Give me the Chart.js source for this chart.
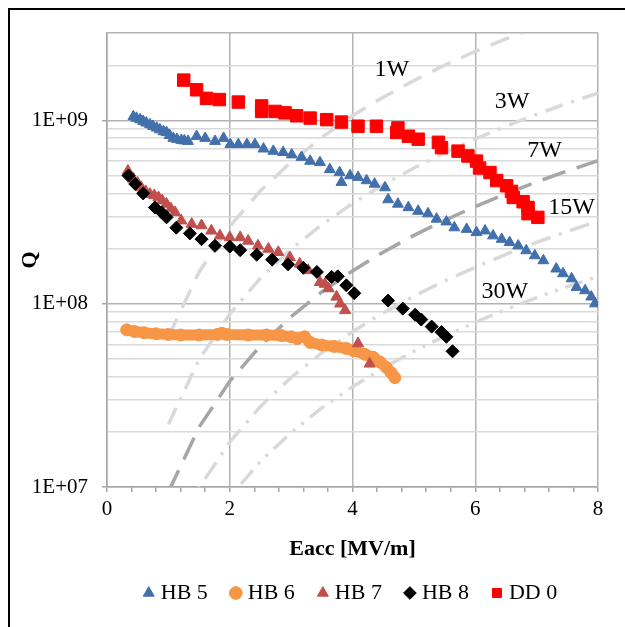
<!DOCTYPE html>
<html lang="en">
<head>
<meta charset="UTF-8">
<title>Q vs Eacc</title>
<script src="https://cdn.jsdelivr.net/npm/chart.js"></script>
<style>
    html, body { margin: 0; padding: 0; background: #fff; }
    body { width: 625px; height: 627px; overflow: hidden; position: relative; }
    canvas { position: absolute; left: 0; top: 0; }
    .frame {
        position: absolute; left: 8px; top: 8px; right: -20px; bottom: -20px;
        border-left: 2px solid #000; border-top: 2px solid #000;
        pointer-events: none;
    }
</style>
</head>
<body>
<canvas id="qChart" width="625" height="627"></canvas>
<div class="frame"></div>
<script>
    // measured series (Eacc in MV/m, Q)
    const hb5E = [0.43, 0.48, 0.54, 0.59, 0.64, 0.70, 0.75, 0.81, 0.86, 0.92, 0.97, 1.02, 1.08, 1.14, 1.21, 1.26, 1.32, 1.46, 1.60, 1.76, 1.90, 2.01, 2.14, 2.28, 2.41, 2.55, 2.71, 2.87, 3.01, 3.17, 3.31, 3.47, 3.63, 3.79, 3.82, 3.96, 4.09, 4.23, 4.36, 4.53, 4.58, 4.74, 4.91, 5.07, 5.23, 5.37, 5.53, 5.66, 5.86, 6.02, 6.16, 6.29, 6.43, 6.56, 6.70, 6.83, 6.97, 7.11, 7.32, 7.43, 7.57, 7.65, 7.79, 7.89, 7.95];
    const hb5Q = [1.05e9, 1.03e9, 1.01e9, 0.99e9, 0.97e9, 0.95e9, 0.93e9, 0.91e9, 0.89e9, 0.87e9, 0.86e9, 0.83e9, 0.80e9, 0.79e9, 0.78e9, 0.775e9, 0.77e9, 0.82e9, 0.80e9, 0.77e9, 0.80e9, 0.74e9, 0.74e9, 0.74e9, 0.74e9, 0.70e9, 0.68e9, 0.67e9, 0.65e9, 0.63e9, 0.60e9, 0.59e9, 0.54e9, 0.52e9, 0.46e9, 0.50e9, 0.49e9, 0.47e9, 0.45e9, 0.43e9, 0.37e9, 0.35e9, 0.335e9, 0.32e9, 0.31e9, 0.29e9, 0.28e9, 0.26e9, 0.255e9, 0.245e9, 0.25e9, 0.235e9, 0.225e9, 0.216e9, 0.207e9, 0.195e9, 0.183e9, 0.172e9, 0.155e9, 0.146e9, 0.137e9, 0.123e9, 0.118e9, 0.109e9, 0.100e9];

    const hb6E = [0.32, 0.45, 0.60, 0.80, 1.00, 1.20, 1.50, 1.80, 1.87, 1.95, 2.30, 2.60, 2.84, 3.00, 3.10, 3.22, 3.31, 3.50, 3.70, 3.90, 4.01, 4.20, 4.34, 4.45, 4.55, 4.63, 4.69];
    const hb6Q = [7.2e7, 7.05e7, 6.95e7, 6.85e7, 6.8e7, 6.75e7, 6.75e7, 6.8e7, 6.9e7, 6.8e7, 6.75e7, 6.75e7, 6.7e7, 6.6e7, 6.45e7, 6.6e7, 6.15e7, 5.95e7, 5.85e7, 5.7e7, 5.55e7, 5.3e7, 5.1e7, 4.8e7, 4.5e7, 4.2e7, 3.95e7];

    const hb7E = [0.34, 0.43, 0.50, 0.56, 0.63, 0.70, 0.77, 0.84, 0.90, 0.97, 1.04, 1.11, 1.21, 1.38, 1.54, 1.70, 1.84, 2.00, 2.17, 2.30, 2.46, 2.63, 2.79, 2.98, 3.14, 3.28, 3.47, 3.55, 3.61, 3.74, 3.80, 3.88, 4.09, 4.28];
    const hb7Q = [5.3e8, 4.8e8, 4.55e8, 4.3e8, 4.1e8, 3.96e8, 3.9e8, 3.8e8, 3.65e8, 3.5e8, 3.3e8, 3.15e8, 2.84e8, 2.72e8, 2.67e8, 2.5e8, 2.35e8, 2.3e8, 2.3e8, 2.2e8, 2.07e8, 1.99e8, 1.91e8, 1.79e8, 1.65e8, 1.52e8, 1.31e8, 1.28e8, 1.21e8, 1.09e8, 1.0e8, 0.92e8, 0.606e8, 0.47e8];

    const hb8E = [0.35, 0.46, 0.59, 0.78, 0.89, 0.97, 1.13, 1.35, 1.54, 1.76, 2.00, 2.17, 2.44, 2.69, 2.95, 3.20, 3.42, 3.66, 3.76, 3.90, 4.03, 4.58, 4.82, 5.02, 5.12, 5.29, 5.45, 5.53, 5.63];
    const hb8Q = [5.0e8, 4.5e8, 4.0e8, 3.35e8, 3.15e8, 2.96e8, 2.6e8, 2.42e8, 2.25e8, 2.07e8, 2.05e8, 1.96e8, 1.85e8, 1.74e8, 1.64e8, 1.57e8, 1.49e8, 1.40e8, 1.41e8, 1.26e8, 1.14e8, 1.04e8, 0.94e8, 0.87e8, 0.82e8, 0.75e8, 0.70e8, 0.66e8, 0.55e8];

    const dd0E = [1.25, 1.46, 1.62, 1.83, 2.14, 2.52, 2.52, 2.74, 2.90, 3.09, 3.31, 3.58, 3.82, 4.09, 4.39, 4.74, 4.72, 4.91, 5.07, 5.40, 5.45, 5.72, 5.88, 6.02, 6.07, 6.24, 6.35, 6.51, 6.59, 6.62, 6.78, 6.86, 6.86, 7.02];
    const dd0Q = [1.66e9, 1.47e9, 1.32e9, 1.30e9, 1.26e9, 1.20e9, 1.12e9, 1.12e9, 1.10e9, 1.06e9, 1.03e9, 1.01e9, 0.98e9, 0.93e9, 0.93e9, 0.91e9, 0.86e9, 0.82e9, 0.79e9, 0.76e9, 0.71e9, 0.68e9, 0.64e9, 0.60e9, 0.55e9, 0.52e9, 0.47e9, 0.44e9, 0.41e9, 0.38e9, 0.36e9, 0.335e9, 0.31e9, 0.296e9];

    // constant power guide curves
    const powerE = [1, 1.5, 2, 2.5, 3, 3.5, 4, 4.5, 5, 5.5, 6, 6.5, 7, 7.5, 8];
    const p1W  = [6.6e7, 1.49e8, 2.64e8, 4.13e8, 5.94e8, 8.09e8, 1.06e9, 1.34e9, 1.65e9, 2.0e9, 2.38e9, 2.79e9, 3.23e9];
    const p3W  = [2.2e7, 4.95e7, 8.8e7, 1.38e8, 1.98e8, 2.7e8, 3.52e8, 4.46e8, 5.5e8, 6.66e8, 7.92e8, 9.3e8, 1.08e9, 1.24e9, 1.41e9];
    const p7W  = [9.4e6, 2.12e7, 3.77e7, 5.89e7, 8.49e7, 1.16e8, 1.51e8, 1.91e8, 2.36e8, 2.85e8, 3.39e8, 3.98e8, 4.62e8, 5.3e8, 6.03e8];
    const p15W = [4.4e6, 9.9e6, 1.76e7, 2.75e7, 3.96e7, 5.39e7, 7.04e7, 8.91e7, 1.1e8, 1.33e8, 1.58e8, 1.86e8, 2.16e8, 2.48e8, 2.82e8];
    const p30W = [2.2e6, 4.95e6, 8.8e6, 1.38e7, 1.98e7, 2.7e7, 3.52e7, 4.46e7, 5.5e7, 6.66e7, 7.92e7, 9.3e7, 1.08e8, 1.24e8, 1.41e8];

    const wLabelText = ['1W', '3W', '7W', '15W', '30W'];
    const wLabelE = [4.64, 6.60, 7.13, 7.57, 6.48];
    const wLabelQ = [1.9e9, 1.26e9, 6.8e8, 3.33e8, 1.17e8];

    // axes
    const xTickPositions = [0, 0.4, 0.8, 1.2, 1.6, 2, 2.4, 2.8, 3.2, 3.6, 4, 4.4, 4.8, 5.2, 5.6, 6, 6.4, 6.8, 7.2, 7.6, 8];
    const xLabelValues = [0, 2, 4, 6, 8];
    const xTickLabels = ['0', '2', '4', '6', '8'];
    const yGridValues = [1e7, 2e7, 3e7, 4e7, 5e7, 6e7, 7e7, 8e7, 9e7, 1e8, 2e8, 3e8, 4e8, 5e8, 6e8, 7e8, 8e8, 9e8, 1e9, 2e9, 3e9];
    const yTickValues = [1e7, 1e8, 1e9];
    const yTickLabels = ['1E+07', '1E+08', '1E+09'];

    const serif = '"Liberation Serif", "Times New Roman", serif';
    Chart.defaults.font.family = serif;
    Chart.defaults.color = '#000';

    function pts(xs, ys) {
        return ys.map((y, i) => ({ x: xs[i], y: y }));
    }

    function markerSet(label, xs, ys, color, style, radius, order) {
        return {
            label: label,
            data: pts(xs, ys),
            backgroundColor: color,
            borderColor: color,
            pointStyle: style,
            pointRadius: radius,
            pointBorderWidth: 1,
            showLine: false,
            order: order
        };
    }

    function powerSet(label, ys, color, dash) {
        return {
            label: label,
            data: pts(powerE, ys),
            isPower: true,
            showLine: true,
            borderColor: color,
            borderWidth: 3.5,
            borderDash: dash,
            pointRadius: 0,
            clip: 0,
            order: 10
        };
    }

    const hb6 = markerSet('HB 6', hb6E, hb6Q, '#f79646', 'circle', 6, 4);
    hb6.showLine = true;
    hb6.borderWidth = 11;
    hb6.borderCapStyle = 'round';
    hb6.borderJoinStyle = 'round';

    const datasets = [
        markerSet('HB 5', hb5E, hb5Q, '#4270ac', 'triangle', 6.3, 5),
        hb6,
        markerSet('HB 7', hb7E, hb7Q, '#c0504d', 'triangle', 6.5, 3),
        markerSet('HB 8', hb8E, hb8Q, '#000000', 'rectRot', 6.5, 2),
        markerSet('DD 0', dd0E, dd0Q, '#ff0000', 'rect', 8.8, 1),
        powerSet('1W', p1W, '#d9d9d9', [20, 12]),
        powerSet('3W', p3W, '#d9d9d9', [18, 9, 3, 9]),
        powerSet('7W', p7W, '#a6a6a6', [24, 12]),
        powerSet('15W', p15W, '#d9d9d9', [20, 9, 3, 9]),
        powerSet('30W', p30W, '#d9d9d9', [18, 8, 3, 8, 3, 8])
    ];

    const wLabels = {
        id: 'wLabels',
        afterDatasetsDraw(chart) {
            const ctx = chart.ctx;
            const x = chart.scales.x, y = chart.scales.y;
            ctx.save();
            ctx.font = '24px ' + serif;
            ctx.fillStyle = '#000';
            ctx.textAlign = 'center';
            ctx.textBaseline = 'middle';
            wLabelText.forEach((t, i) => {
                ctx.fillText(t, x.getPixelForValue(wLabelE[i]), y.getPixelForValue(wLabelQ[i]));
            });
            ctx.restore();
        }
    };

    const isDecade = v => yTickValues.includes(v);

    new Chart(document.getElementById('qChart'), {
        type: 'scatter',
        data: { datasets: datasets },
        plugins: [wLabels],
        options: {
            responsive: false,
            animation: false,
            devicePixelRatio: 1,
            layout: { padding: { left: 10, top: 33, right: 27, bottom: 13 } },
            plugins: {
                tooltip: { enabled: false },
                legend: {
                    position: 'bottom',
                    fullSize: false,
                    labels: {
                        usePointStyle: true,
                        boxWidth: 2,
                        boxHeight: 9,
                        padding: 27,
                        font: { size: 22 },
                        color: '#000',
                        filter: (item, data) => !data.datasets[item.datasetIndex].isPower,
                        sort: (a, b) => a.datasetIndex - b.datasetIndex
                    }
                }
            },
            scales: {
                x: {
                    type: 'linear',
                    min: 0,
                    max: 8,
                    afterBuildTicks: s => { s.ticks = xTickPositions.map(v => ({ value: v })); },
                    afterFit: s => { s.height = 68; },
                    grid: {
                        color: c => (c.tick && xLabelValues.includes(c.tick.value)) ? '#b3b3b3' : 'rgba(0,0,0,0)',
                        lineWidth: 1.5,
                        tickColor: '#a6a6a6',
                        tickLength: 5
                    },
                    border: { color: '#a6a6a6', width: 1.5 },
                    ticks: {
                        autoSkip: false,
                        maxRotation: 0,
                        padding: 5,
                        font: { size: 21 },
                        callback: v => {
                            const i = xLabelValues.indexOf(v);
                            return i >= 0 ? xTickLabels[i] : '';
                        }
                    },
                    title: {
                        display: true,
                        text: 'Eacc [MV/m]',
                        font: { size: 22, weight: 'bold' },
                        padding: { top: 0, bottom: -8 }
                    }
                },
                y: {
                    type: 'logarithmic',
                    min: 1e7,
                    max: 3e9,
                    afterBuildTicks: s => { s.ticks = yGridValues.map(v => ({ value: v, major: isDecade(v) })); },
                    afterFit: s => { s.width = 97; },
                    grid: {
                        color: c => (c.tick && (isDecade(c.tick.value) || c.tick.value === 3e9)) ? '#b3b3b3' : '#dadada',
                        lineWidth: 1.5,
                        tickColor: c => (c.tick && isDecade(c.tick.value)) ? '#a6a6a6' : 'rgba(0,0,0,0)',
                        tickLength: 5
                    },
                    border: { color: '#a6a6a6', width: 1.5 },
                    ticks: {
                        autoSkip: false,
                        padding: 14,
                        font: { size: 21 },
                        callback: v => {
                            const i = yTickValues.indexOf(v);
                            return i >= 0 ? yTickLabels[i] : '';
                        }
                    },
                    title: {
                        display: true,
                        text: 'Q',
                        font: { size: 22, weight: 'bold' },
                        padding: { top: 7, bottom: 0 }
                    }
                }
            }
        }
    });
</script>
</body>
</html>
